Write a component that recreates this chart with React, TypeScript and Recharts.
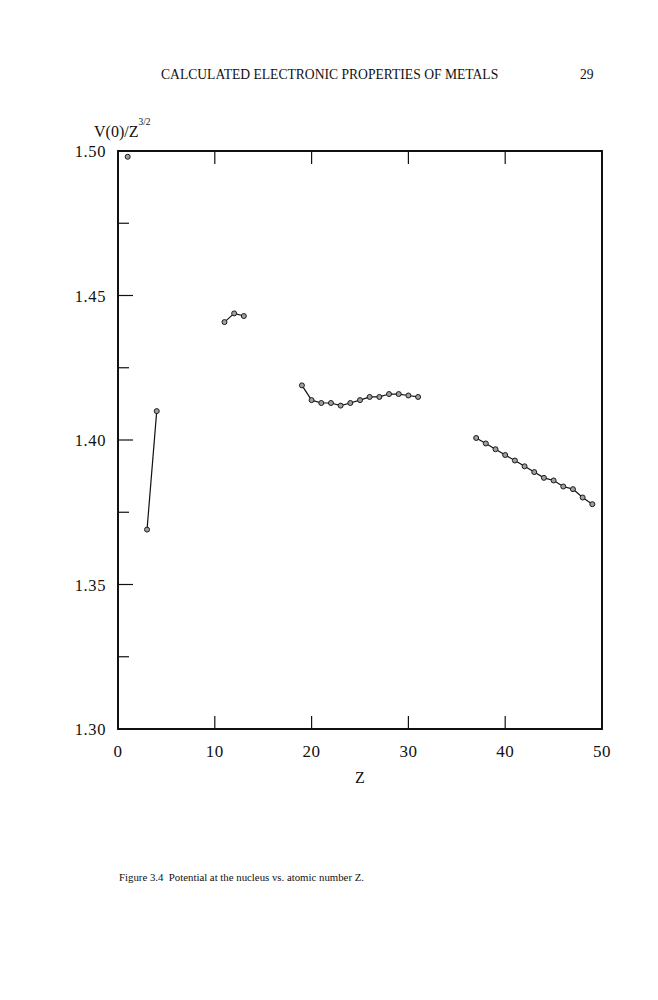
import React from "react";
import { LineChart, Line, XAxis, YAxis, ReferenceArea } from "recharts";

// V(0)/Z^(3/2) vs atomic number Z
const SEG_H = [1];
const SEG_H_V = [1.498];
const SEG_LIBE = [3, 4];
const SEG_LIBE_V = [1.369, 1.41];
const SEG_NA = [11, 12, 13];
const SEG_NA_V = [1.4408, 1.4438, 1.4429];
const SEG_K = [19, 20, 21, 22, 23, 24, 25, 26, 27, 28, 29, 30, 31];
const SEG_K_V = [1.4189, 1.4138, 1.4128, 1.4128, 1.4119, 1.4128, 1.4138, 1.4149, 1.4149, 1.4159, 1.4159, 1.4154, 1.4149];
const SEG_RB = [37, 38, 39, 40, 41, 42, 43, 44, 45, 46, 47, 48, 49];
const SEG_RB_V = [1.4007, 1.3988, 1.3968, 1.3948, 1.3929, 1.3909, 1.3889, 1.3869, 1.386, 1.3839, 1.383, 1.3801, 1.3778];

const X_TICKS = [0, 10, 20, 30, 40, 50];
const Y_TICKS = [1.3, 1.325, 1.35, 1.375, 1.4, 1.425, 1.45, 1.475, 1.5];

const W = 658;
const H = 1000;
const YAXIS_W = 40;
const XAXIS_H = 30;
const M = { top: 151, right: 56, left: 118 - YAXIS_W, bottom: H - 729 - XAXIS_H };
const PLOT_TOP = M.top;

const FONT = "'Liberation Serif', 'DejaVu Serif', serif";

const toRows = (zs: number[], vs: number[]) => zs.map((z, i) => ({ z, v: vs[i] }));

const Dot = (p: any) => {
  if (p.cx == null || p.cy == null) return null;
  return <circle key={p.index} cx={p.cx} cy={p.cy} r={2.5} fill="#a0a0a0" stroke="#1a1a1a" strokeWidth={1} />;
};

const YTick = (p: any) => {
  const v = p.payload.value;
  const major = Math.round(v * 1000) % 50 === 0;
  const inner = v > 1.301 && v < 1.499;
  return (
    <g>
      {inner && <line x1={p.x} x2={p.x + (major ? 15 : 11)} y1={p.y} y2={p.y} stroke="#111" strokeWidth={1.2} />}
      {major && (
        <text x={p.x - 12} y={p.y + 6} textAnchor="end" fontFamily={FONT} fontSize={16.5} letterSpacing={0.6} fill="#111">
          {v.toFixed(2)}
        </text>
      )}
    </g>
  );
};

const XTick = (p: any) => {
  const v = p.payload.value;
  const inner = v > 0 && v < 50;
  return (
    <g>
      {inner && <line x1={p.x} x2={p.x} y1={p.y} y2={p.y - 13} stroke="#111" strokeWidth={1.2} />}
      {inner && <line x1={p.x} x2={p.x} y1={PLOT_TOP} y2={PLOT_TOP + 13} stroke="#111" strokeWidth={1.2} />}
      <text x={p.x} y={p.y + 28} textAnchor="middle" fontFamily={FONT} fontSize={17} letterSpacing={0.5} fill="#111">
        {v}
      </text>
    </g>
  );
};

const segs = [
  toRows(SEG_H, SEG_H_V),
  toRows(SEG_LIBE, SEG_LIBE_V),
  toRows(SEG_NA, SEG_NA_V),
  toRows(SEG_K, SEG_K_V),
  toRows(SEG_RB, SEG_RB_V),
];

export default function App() {
  return (
    <div style={{ position: "absolute", left: 0, top: 0, width: W, height: H, background: "#fff", fontFamily: FONT }}>
      <div style={{ position: "absolute", left: 161, top: 67, fontSize: 13.6, color: "#111", whiteSpace: "nowrap" }}>
        CALCULATED ELECTRONIC PROPERTIES OF METALS
      </div>
      <div style={{ position: "absolute", left: 580, top: 67, fontSize: 13.6, color: "#111" }}>29</div>
      <div style={{ position: "absolute", left: 94, top: 123, fontSize: 16, color: "#111", whiteSpace: "nowrap" }}>
        V(0)/Z<span style={{ position: "relative", top: -12, fontSize: 9.5 }}>3/2</span>
      </div>
      <div style={{ position: "absolute", left: 355, top: 769, fontSize: 16, color: "#111" }}>Z</div>
      <div style={{ position: "absolute", left: 119, top: 871, fontSize: 10.8, color: "#111", whiteSpace: "nowrap" }}>
        Figure 3.4&nbsp; Potential at the nucleus vs. atomic number Z.
      </div>
      <LineChart width={W} height={H} margin={M} style={{ position: "absolute", left: 0, top: 0 }}>
        <XAxis
          type="number"
          dataKey="z"
          domain={[0, 50]}
          ticks={X_TICKS}
          height={XAXIS_H}
          tickSize={0}
          tickMargin={0}
          axisLine={false}
          tickLine={false}
          tick={<XTick />}
          allowDataOverflow
        />
        <YAxis
          type="number"
          domain={[1.3, 1.5]}
          ticks={Y_TICKS}
          width={YAXIS_W}
          tickSize={0}
          tickMargin={0}
          axisLine={false}
          tickLine={false}
          tick={<YTick />}
          allowDataOverflow
          interval={0}
        />
        <ReferenceArea x1={0} x2={50} y1={1.3} y2={1.5} fill="none" stroke="#111" strokeWidth={2} ifOverflow="visible" />
        {segs.map((d, i) => (
          <Line
            key={i}
            data={d}
            dataKey="v"
            type="linear"
            stroke="#111"
            strokeWidth={1.2}
            dot={<Dot />}
            isAnimationActive={false}
          />
        ))}
      </LineChart>
    </div>
  );
}
